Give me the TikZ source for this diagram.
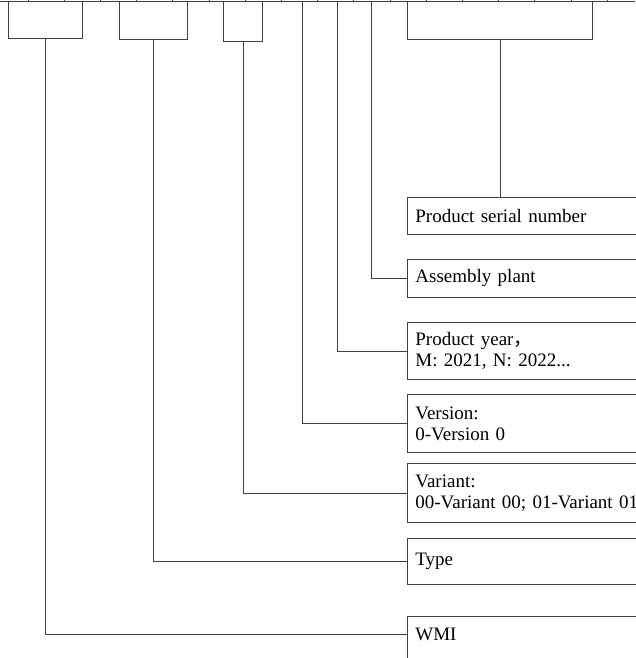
\documentclass[tikz,border=0pt]{standalone}
\usepackage{fontspec}
\setmainfont{Liberation Serif}
\newfontfamily\cjk{Noto Sans CJK SC}
\usepackage{tikz}
\usetikzlibrary{positioning}

\begin{document}
\begin{tikzpicture}[x=1pt, y=-1pt,
  rule/.style={line width=0.8pt, draw=black!75},
  fieldbox/.style={rule, inner sep=0pt, anchor=north west},
  infobox/.style={rule, anchor=north west, text width=290pt, align=left,
    inner xsep=8pt, inner ysep=0pt, font=\fontsize{19}{21}\selectfont}]
\useasboundingbox (0,0) rectangle (635,658);
% code row along the top edge
\draw[rule] (0,1.5) -- (635,1.5);
\foreach \x in {28,64.2,...,608}{
  \draw[rule] (\x,0) -- (\x,1.5);
}
% grouped fields
\node[fieldbox, minimum width=74pt, minimum height=36.5pt] (fwmi) at (8,1.5) {};
\node[fieldbox, minimum width=68pt, minimum height=37.5pt] (ftype) at (119,1.5) {};
\node[fieldbox, minimum width=39pt, minimum height=39.5pt] (fvariant) at (223,1.5) {};
\node[fieldbox, minimum width=185pt, minimum height=37.5pt] (fserial) at (407,1.5) {};
% single fields
\coordinate (fversion) at (302,1.5);
\coordinate (fyear) at (337,1.5);
\coordinate (fplant) at (371,1.5);
% descriptions
\node[infobox, minimum height=37pt] (serial) at (407,197) {Product serial number};
\node[infobox, minimum height=38pt] (plant) at (407,259) {Assembly plant};
\node[infobox, minimum height=57pt] (year) at (407,322) {Product year{\cjk ，}\\M: 2021, N: 2022...};
\node[infobox, minimum height=58pt] (version) at (407,394) {Version:\\0-Version 0};
\node[infobox, minimum height=59pt] (variant) at (407,463) {Variant:\\00-Variant 00; 01-Variant 01};
\node[infobox, minimum height=46pt] (type) at (407,538) {Type};
\node[infobox, draw=none, minimum height=36pt] (wmi) at (407,616) {WMI};
% last box runs on below the edge
\draw[rule] (wmi.north east) -- (wmi.north west) -- ++(0,50);
% leaders
\draw[rule] (fserial.south) -- (serial.north -| fserial.south);
\draw[rule] (fplant) |- (plant.west);
\draw[rule] (fyear) |- (year.west);
\draw[rule] (fversion) |- (version.west);
\draw[rule] (fvariant.south) |- (variant.west);
\draw[rule] (ftype.south) |- (type.west);
\draw[rule] (fwmi.south) |- (wmi.west);
\end{tikzpicture}
\end{document}
